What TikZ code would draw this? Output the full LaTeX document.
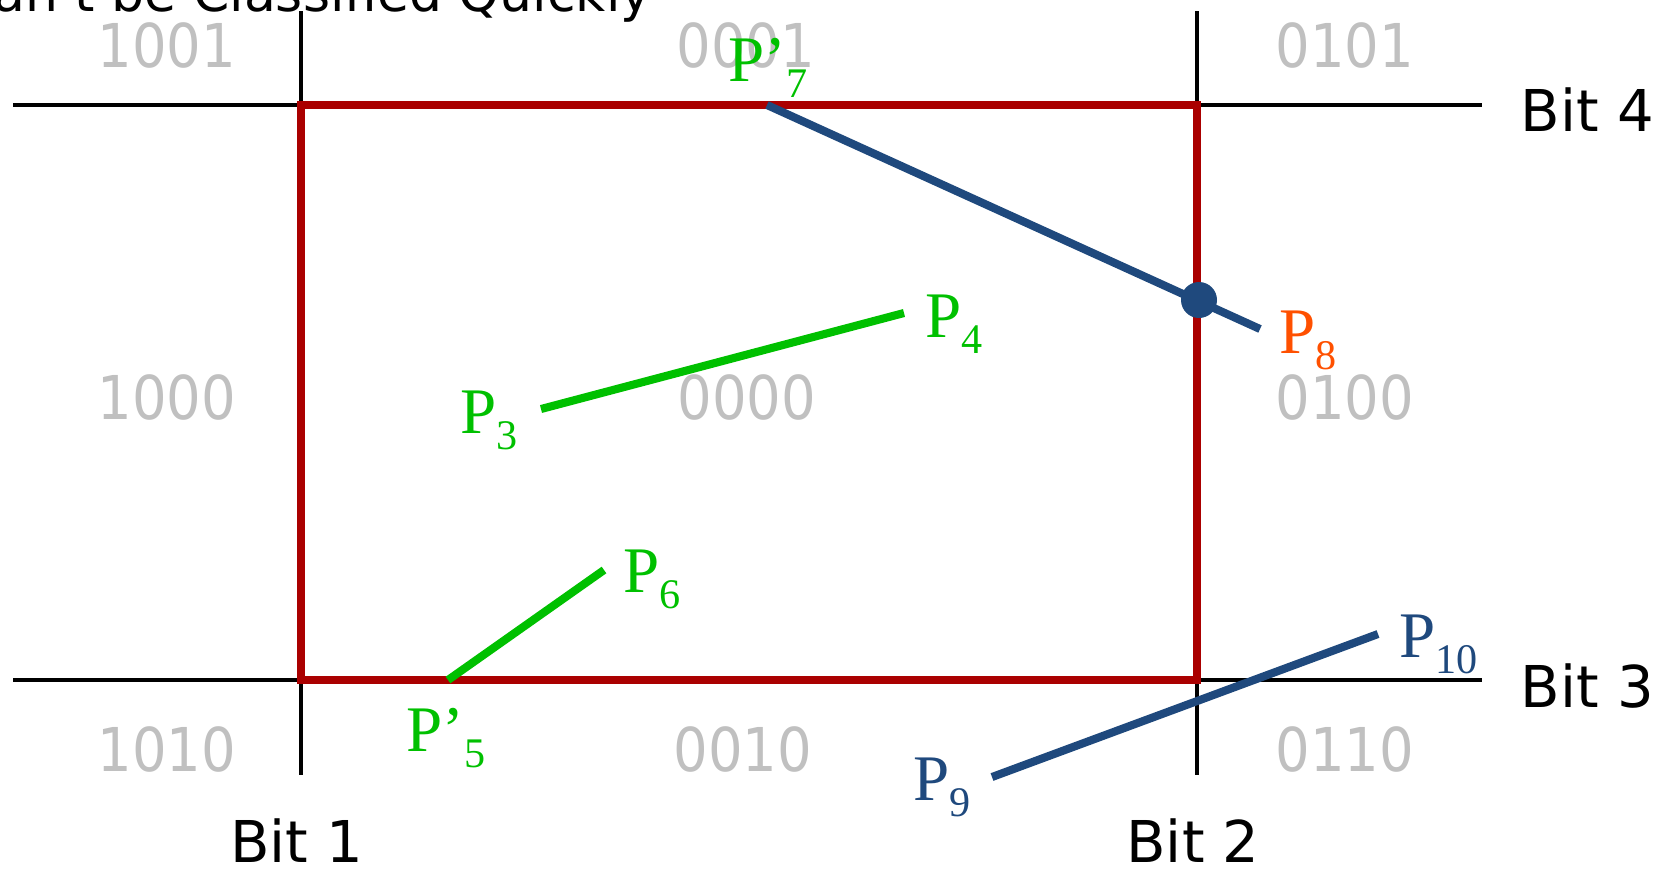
\documentclass[tikz,border=0pt]{standalone}
\usepackage{fontspec}
\setmainfont{Liberation Serif}
\setsansfont{DejaVu Sans}
\newfontfamily\codefont{DejaVu Sans Condensed}
\usetikzlibrary{positioning}

\definecolor{clipred}{RGB}{170,0,0}
\definecolor{segblue}{RGB}{31,73,125}
\definecolor{seggreen}{RGB}{0,192,0}
\definecolor{segorange}{RGB}{255,80,0}
\definecolor{codegray}{RGB}{192,192,192}

% point label with lowered index
\newcommand{\plab}[2]{P#1\raisebox{-0.25em}{\fontsize{12}{12}\selectfont #2}}

\begin{document}
\begin{tikzpicture}[x=0.1mm, y=-0.1mm,
  code/.style={font=\codefont\fontsize{17.2}{17.2}\selectfont, text=codegray, anchor=base, inner sep=0pt},
  bitlab/.style={font=\sffamily\fontsize{16.4}{16.4}\selectfont, inner sep=0pt},
  plabel/.style={font=\fontsize{18.5}{18.5}\selectfont, anchor=base west, inner sep=0pt},
  gridline/.style={line width=1pt},
  seg/.style={line width=2.3pt}
]
  \useasboundingbox (0,0) rectangle (1664,870);
  \clip (0,0) rectangle (1664,870);

  % title, mostly cut off at the top
  \node[bitlab, anchor=base east, font=\sffamily\fontsize{14.8}{14.8}\selectfont] (title) at (652,11) {Can't be Classified Quickly};

  % outcodes
  \node[code] (c1001) at (167,67) {1001};
  \node[code] (c0001) at (746,67) {0001};
  \node[code] (c0101) at (1345,67) {0101};
  \node[code] (c1000) at (167,419) {1000};
  \node[code] (c0000) at (747,419) {0000};
  \node[code] (c0100) at (1345,419) {0100};
  \node[code] (c1010) at (167,771) {1010};
  \node[code] (c0010) at (743,771) {0010};
  \node[code] (c0110) at (1345,771) {0110};

  % clip boundaries
  \coordinate (b4l) at (13,105);
  \coordinate (b4r) at (1482,105);
  \coordinate (b3l) at (13,680);
  \coordinate (b3r) at (1482,680);
  \coordinate (b1t) at (301,11);
  \coordinate (b1b) at (301,775);
  \coordinate (b2t) at (1197,11);
  \coordinate (b2b) at (1197,775);
  \draw[gridline] (b4l) -- (b4r);
  \draw[gridline] (b3l) -- (b3r);
  \draw[gridline] (b1t) -- (b1b);
  \draw[gridline] (b2t) -- (b2b);

  \node[bitlab, anchor=base west] (bit4) at (1520,131) {Bit 4};
  \node[bitlab, anchor=base west] (bit3) at (1520,707) {Bit 3};
  \node[bitlab, anchor=base] (bit1) at (297,862) {Bit 1};
  \node[bitlab, anchor=base] (bit2) at (1193,862) {Bit 2};

  % clip window
  \coordinate (wnw) at (301,105);
  \coordinate (wse) at (1197,680);
  \draw[clipred, line width=2.2pt] (wnw) rectangle (wse);

  % segments
  \coordinate (p3) at (541,409);
  \coordinate (p4) at (904,313);
  \coordinate (p5) at (448,680);
  \coordinate (p6) at (604,570);
  \coordinate (p7) at (767,105);
  \coordinate (p8) at (1260,329);
  \coordinate (p9) at (992,777);
  \coordinate (p10) at (1378,634);
  \coordinate (hit) at (1199,300);

  \draw[seg, seggreen] (p3) -- (p4);
  \draw[seg, seggreen] (p5) -- (p6);
  \draw[seg, segblue] (p7) -- (p8);
  \draw[seg, segblue] (p9) -- (p10);
  \fill[segblue] (hit) circle[radius=18];

  \node[plabel, text=seggreen] (l3) at (460,433) {\plab{}{3}};
  \node[plabel, text=seggreen] (l4) at (925,337) {\plab{}{4}};
  \node[plabel, text=seggreen] (l5) at (406,751) {\plab{’}{5}};
  \node[plabel, text=seggreen] (l6) at (623,592) {\plab{}{6}};
  \node[plabel, text=seggreen] (l7) at (728,81) {\plab{’}{7}};
  \node[plabel, text=segorange] (l8) at (1279,353) {\plab{}{8}};
  \node[plabel, text=segblue] (l9) at (913,800) {\plab{}{9}};
  \node[plabel, text=segblue] (l10) at (1399,657) {\plab{}{10}};
\end{tikzpicture}
\end{document}
